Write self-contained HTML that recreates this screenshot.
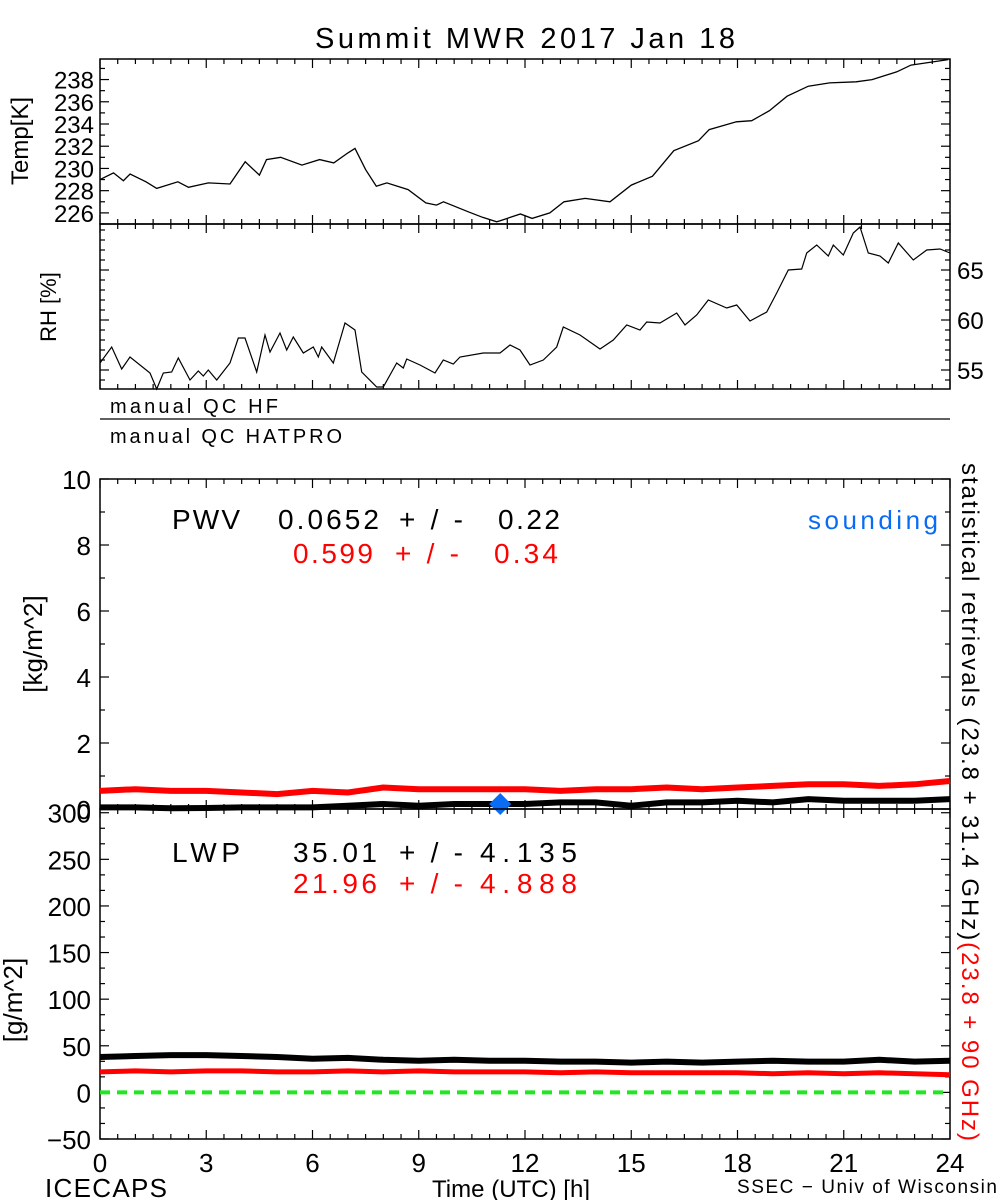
<!DOCTYPE html>
<html><head><meta charset="utf-8"><style>
html,body{margin:0;padding:0;background:#fff}
svg{display:block;font-family:"Liberation Sans",sans-serif}
</style></head><body>
<svg id="c" width="1000" height="1200" viewBox="0 0 1000 1200" xmlns="http://www.w3.org/2000/svg">
<text x="525" y="48" font-size="29" text-anchor="middle" textLength="420">Summit MWR 2017 Jan 18</text>
<g id="g"></g>
</svg>
<script>
// ---- data ----
const tempHours=[0,0.38,0.66,0.85,1.3,1.6,2.2,2.5,3.06,3.67,4.1,4.5,4.7,5.1,5.7,6.2,6.6,7.0,7.2,7.5,7.8,8.1,8.7,9.2,9.5,9.7,10.4,10.8,11.2,11.3,11.87,12.2,12.7,13.1,13.7,14.4,15.0,15.6,16.2,16.9,17.2,17.97,18.4,18.9,19.4,20.0,20.6,21.35,21.8,22.5,22.9,23.95];
const tempVals=[229.0,229.6,228.9,229.5,228.8,228.2,228.8,228.3,228.7,228.6,230.6,229.4,230.8,231.0,230.3,230.8,230.5,231.4,231.8,229.9,228.4,228.7,228.1,226.9,226.7,227.0,226.1,225.6,225.2,225.3,225.9,225.5,226.0,227.0,227.3,227.0,228.5,229.3,231.6,232.5,233.5,234.2,234.3,235.2,236.5,237.4,237.7,237.8,238.0,238.7,239.3,239.8];
const rhZ1X=[300,335,365,390,450,470,490,515,535,570,595,610,625,650,690,715,735,770,795,810,840,860,880,910,940,955,965,1000,1035,1065,1085,1130,1150,1190,1210,1220,1260,1305,1330,1360,1380,1450];
const rhZ1V=[55.7,57.3,55.1,56.3,54.7,53.1,54.7,54.8,56.2,54.0,54.9,54.4,55.0,54.0,55.7,58.2,58.2,54.8,58.5,56.8,58.7,57.0,58.3,56.7,57.3,56.3,57.3,55.7,59.7,59.0,54.8,53.3,53.3,55.7,55.2,56.1,55.5,54.7,56.0,55.6,56.3,56.7];
const rhZ2X=[0,30,60,90,130,170,190,240,300,340,380,420,440,480,530,555,590,625,680,710,750,800,830,865,905,920,950,985,1000,1030,1060,1080,1105,1140,1165,1195,1240,1280,1320,1350];
const rhZ2V=[56.7,57.5,57.0,55.5,56.0,57.3,59.3,58.5,57.1,58.0,59.5,59.0,59.8,59.7,60.7,59.5,60.5,62.0,61.2,61.5,59.9,60.8,62.7,65.0,65.1,66.7,67.5,66.4,67.5,66.5,68.7,69.3,66.7,66.4,65.7,67.7,66.0,67.0,67.1,66.7];
const rhHours=rhZ1X.map(X=>(X/3-100)/35.417).concat(rhZ2X.map(X=>(400+X/3)/35.417));
const rhVals=rhZ1V.concat(rhZ2V);
const hourly=[0,1,2,3,4,5,6,7,8,9,10,11,12,13,14,15,16,17,18,19,20,21,22,23,24];
const pwvRed=[0.55,0.6,0.55,0.55,0.5,0.45,0.55,0.5,0.65,0.6,0.6,0.6,0.6,0.55,0.6,0.6,0.65,0.6,0.65,0.7,0.75,0.75,0.7,0.75,0.85];
const pwvBlack=[0.05,0.05,0.02,0.03,0.05,0.05,0.05,0.1,0.15,0.1,0.15,0.15,0.15,0.2,0.2,0.1,0.2,0.2,0.25,0.2,0.3,0.25,0.25,0.25,0.3];
const lwpBlack=[38,39,40,40,39,38,36,37,35,34,35,34,34,33,33,32,33,32,33,34,33,33,35,33,34];
const lwpRed=[22,23,22,23,23,22,22,23,22,23,22,22,22,21,22,21,21,21,21,20,21,20,21,20,19];
const soundingHour=[11.3], soundingPwv=[0.15];
const xTicks=[0,3,6,9,12,15,18,21,24];
const tempTicks=[226,228,230,232,234,236,238];
const rhTicks=[55,60,65];
const pwvTicks=[0,2,4,6,8,10];
const lwpTicks=[-50,0,50,100,150,200,250,300];

// ---- layout ----
const NS="http://www.w3.org/2000/svg";
const G=document.getElementById('g');
const X0=100,X1=950;
const xs=h=>X0+(X1-X0)*h/24;
function lin(d0,d1,p0,p1){return v=>p0+(v-d0)*(p1-p0)/(d1-d0);}
const yT=lin(225,239.85,224,59), yR=lin(53.1,69.6,389,224), yP=lin(0,10,809,479), yL=lin(-50,304,1139,809);
function el(tag,attrs,parent){const e=document.createElementNS(NS,tag);for(const k in attrs)e.setAttribute(k,attrs[k]);(parent||G).appendChild(e);return e;}
function txt(s,attrs){const e=el('text',attrs);e.textContent=s;return e;}
function frame(top,bot,name){
  const r=el('rect',{x:X0,y:top,width:X1-X0,height:bot-top,fill:'none',stroke:'#000','stroke-width':1.5});
  
  
  for(let h=0;h<=24;h+=0.5){const L=(h%3===0)?9:5;
    el('line',{x1:xs(h),x2:xs(h),y1:top,y2:top+L,stroke:'#000','stroke-width':1.2});
    el('line',{x1:xs(h),x2:xs(h),y1:bot,y2:bot-L,stroke:'#000','stroke-width':1.2});}
}
function yticks(ys,lo,hi,minor,major,side){
  for(let v=Math.ceil(lo/minor)*minor;v<=hi+1e-9;v+=minor){const isM=Math.abs(v/major-Math.round(v/major))<1e-6;const L=isM?9:5;const y=ys(v);
    if(side!=='r')el('line',{x1:X0,x2:X0+L,y1:y,y2:y,stroke:'#000','stroke-width':1.2});
    el('line',{x1:X1,x2:X1-L,y1:y,y2:y,stroke:'#000','stroke-width':1.2});}
}
function path(hs,vs,ys,attrs,name){
  const d=hs.map((h,i)=>(i?'L':'M')+xs(h).toFixed(1)+','+ys(vs[i]).toFixed(1)).join('');
  const p=el('path',Object.assign({d:d,fill:'none'},attrs));
  
  
  return p;
}
// Temp panel
frame(59,224,'temp-panel');yticks(yT,225,239.8,1,2);
tempTicks.forEach(v=>{const t=txt(String(v),{x:94,y:yT(v)+9,'font-size':24,'text-anchor':'end'});
  
  });
path(tempHours,tempVals,yT,{stroke:'#000','stroke-width':1.3},'temp-line');
let t=txt('Temp[K]',{transform:'translate(28,141) rotate(-90)','font-size':24,'text-anchor':'middle'});


// RH panel
frame(224,389,'rh-panel');yticks(yR,53.2,69.5,1,5);
rhTicks.forEach(v=>{const t=txt(String(v),{x:957,y:yR(v)+9,'font-size':24});
  
  });
path(rhHours,rhVals,yR,{stroke:'#000','stroke-width':1.2},'rh-line');
t=txt('RH [%]',{transform:'translate(56,307) rotate(-90)','font-size':22,'text-anchor':'middle'});


// QC
t=txt('manual QC HF',{x:110,y:413,'font-size':20,textLength:168});


el('line',{x1:X0,x2:X1,y1:419,y2:419,stroke:'#000','stroke-width':1.3});
t=txt('manual QC HATPRO',{x:110,y:443,'font-size':20,textLength:232});


// PWV
frame(479,809,'pwv-panel');yticks(yP,0,10,1,2);
pwvTicks.forEach(v=>{const t=txt(String(v),{x:91,y:yP(v)+10,'font-size':26,'text-anchor':'end'});
  
  });
path(hourly,pwvRed,yP,{stroke:'#ff0000','stroke-width':6},'pwv-red-series');
path(hourly,pwvBlack,yP,{stroke:'#000','stroke-width':6},'pwv-black-series');
soundingHour.forEach((h,i)=>{const cx=xs(h),cy=yP(soundingPwv[i]);
  const d=el('polygon',{points:`${cx},${cy-11} ${cx+11},${cy} ${cx},${cy+11} ${cx-11},${cy}`,fill:'#0a6cf5'});
  
  });
t=txt('[kg/m^2]',{transform:'translate(42,644) rotate(-90)','font-size':26,'text-anchor':'middle'});


const labs=[['PWV',172,529,68,'#000'],['0.0652',278,529,101,'#000'],['+/-',399,529,64,'#000'],['0.22',498,529,62,'#000'],
 ['0.599',293,563,80,'#f00'],['+/-',395,563,64,'#f00'],['0.34',494,563,64,'#f00'],
 ['LWP',172,862,68,'#000'],['35.01',293,862,84,'#000'],['+/-',399,862,64,'#000'],['4.135',480,862,97,'#000'],
 ['21.96',293,893,84,'#f00'],['+/-',399,893,64,'#f00'],['4.888',480,893,97,'#f00']];
labs.forEach(a=>{const t=txt(a[0],{x:a[1],y:a[2],'font-size':28,fill:a[4],textLength:a[3]});
  
  });
t=txt('sounding',{x:808,y:529,'font-size':26,fill:'#0a6cf5',textLength:130});


// LWP
frame(809,1139,'lwp-panel');yticks(yL,-50,304,50/3,50);
lwpTicks.forEach(v=>{const t=txt(v<0?'\u2212'+Math.abs(v):String(v),{x:91,y:yL(v)+10,'font-size':26,'text-anchor':'end'});
  
  });
const z=el('line',{x1:X0,x2:X1-5,y1:yL(0),y2:yL(0),stroke:'#22e622','stroke-width':4,'stroke-dasharray':'10 7'});


path(hourly,lwpRed,yL,{stroke:'#ff0000','stroke-width':5},'lwp-red-series');
path(hourly,lwpBlack,yL,{stroke:'#000','stroke-width':6},'lwp-black-series');
t=txt('[g/m^2]',{transform:'translate(22,1000) rotate(-90)','font-size':26,'text-anchor':'middle'});


// x axis
xTicks.forEach(h=>{const t=txt(String(h),{x:xs(h),y:1172,'font-size':26,'text-anchor':'middle'});
  
  });
t=txt('ICECAPS',{x:45,y:1197,'font-size':26,textLength:122});


t=txt('Time (UTC) [h]',{x:432,y:1197,'font-size':24,textLength:158});


t=txt('SSEC \u2212 Univ of Wisconsin',{x:737,y:1193,'font-size':19,textLength:260});


// right rotated label
const rt=el('text',{transform:'translate(962,463) rotate(90)','font-size':24,textLength:678});


const s1=el('tspan',{},rt);s1.textContent='statistical retrievals (23.8 + 31.4 GHz)';
const s2=el('tspan',{fill:'#f00'},rt);s2.textContent='(23.8 + 90 GHz)';
</script>
</body></html>
